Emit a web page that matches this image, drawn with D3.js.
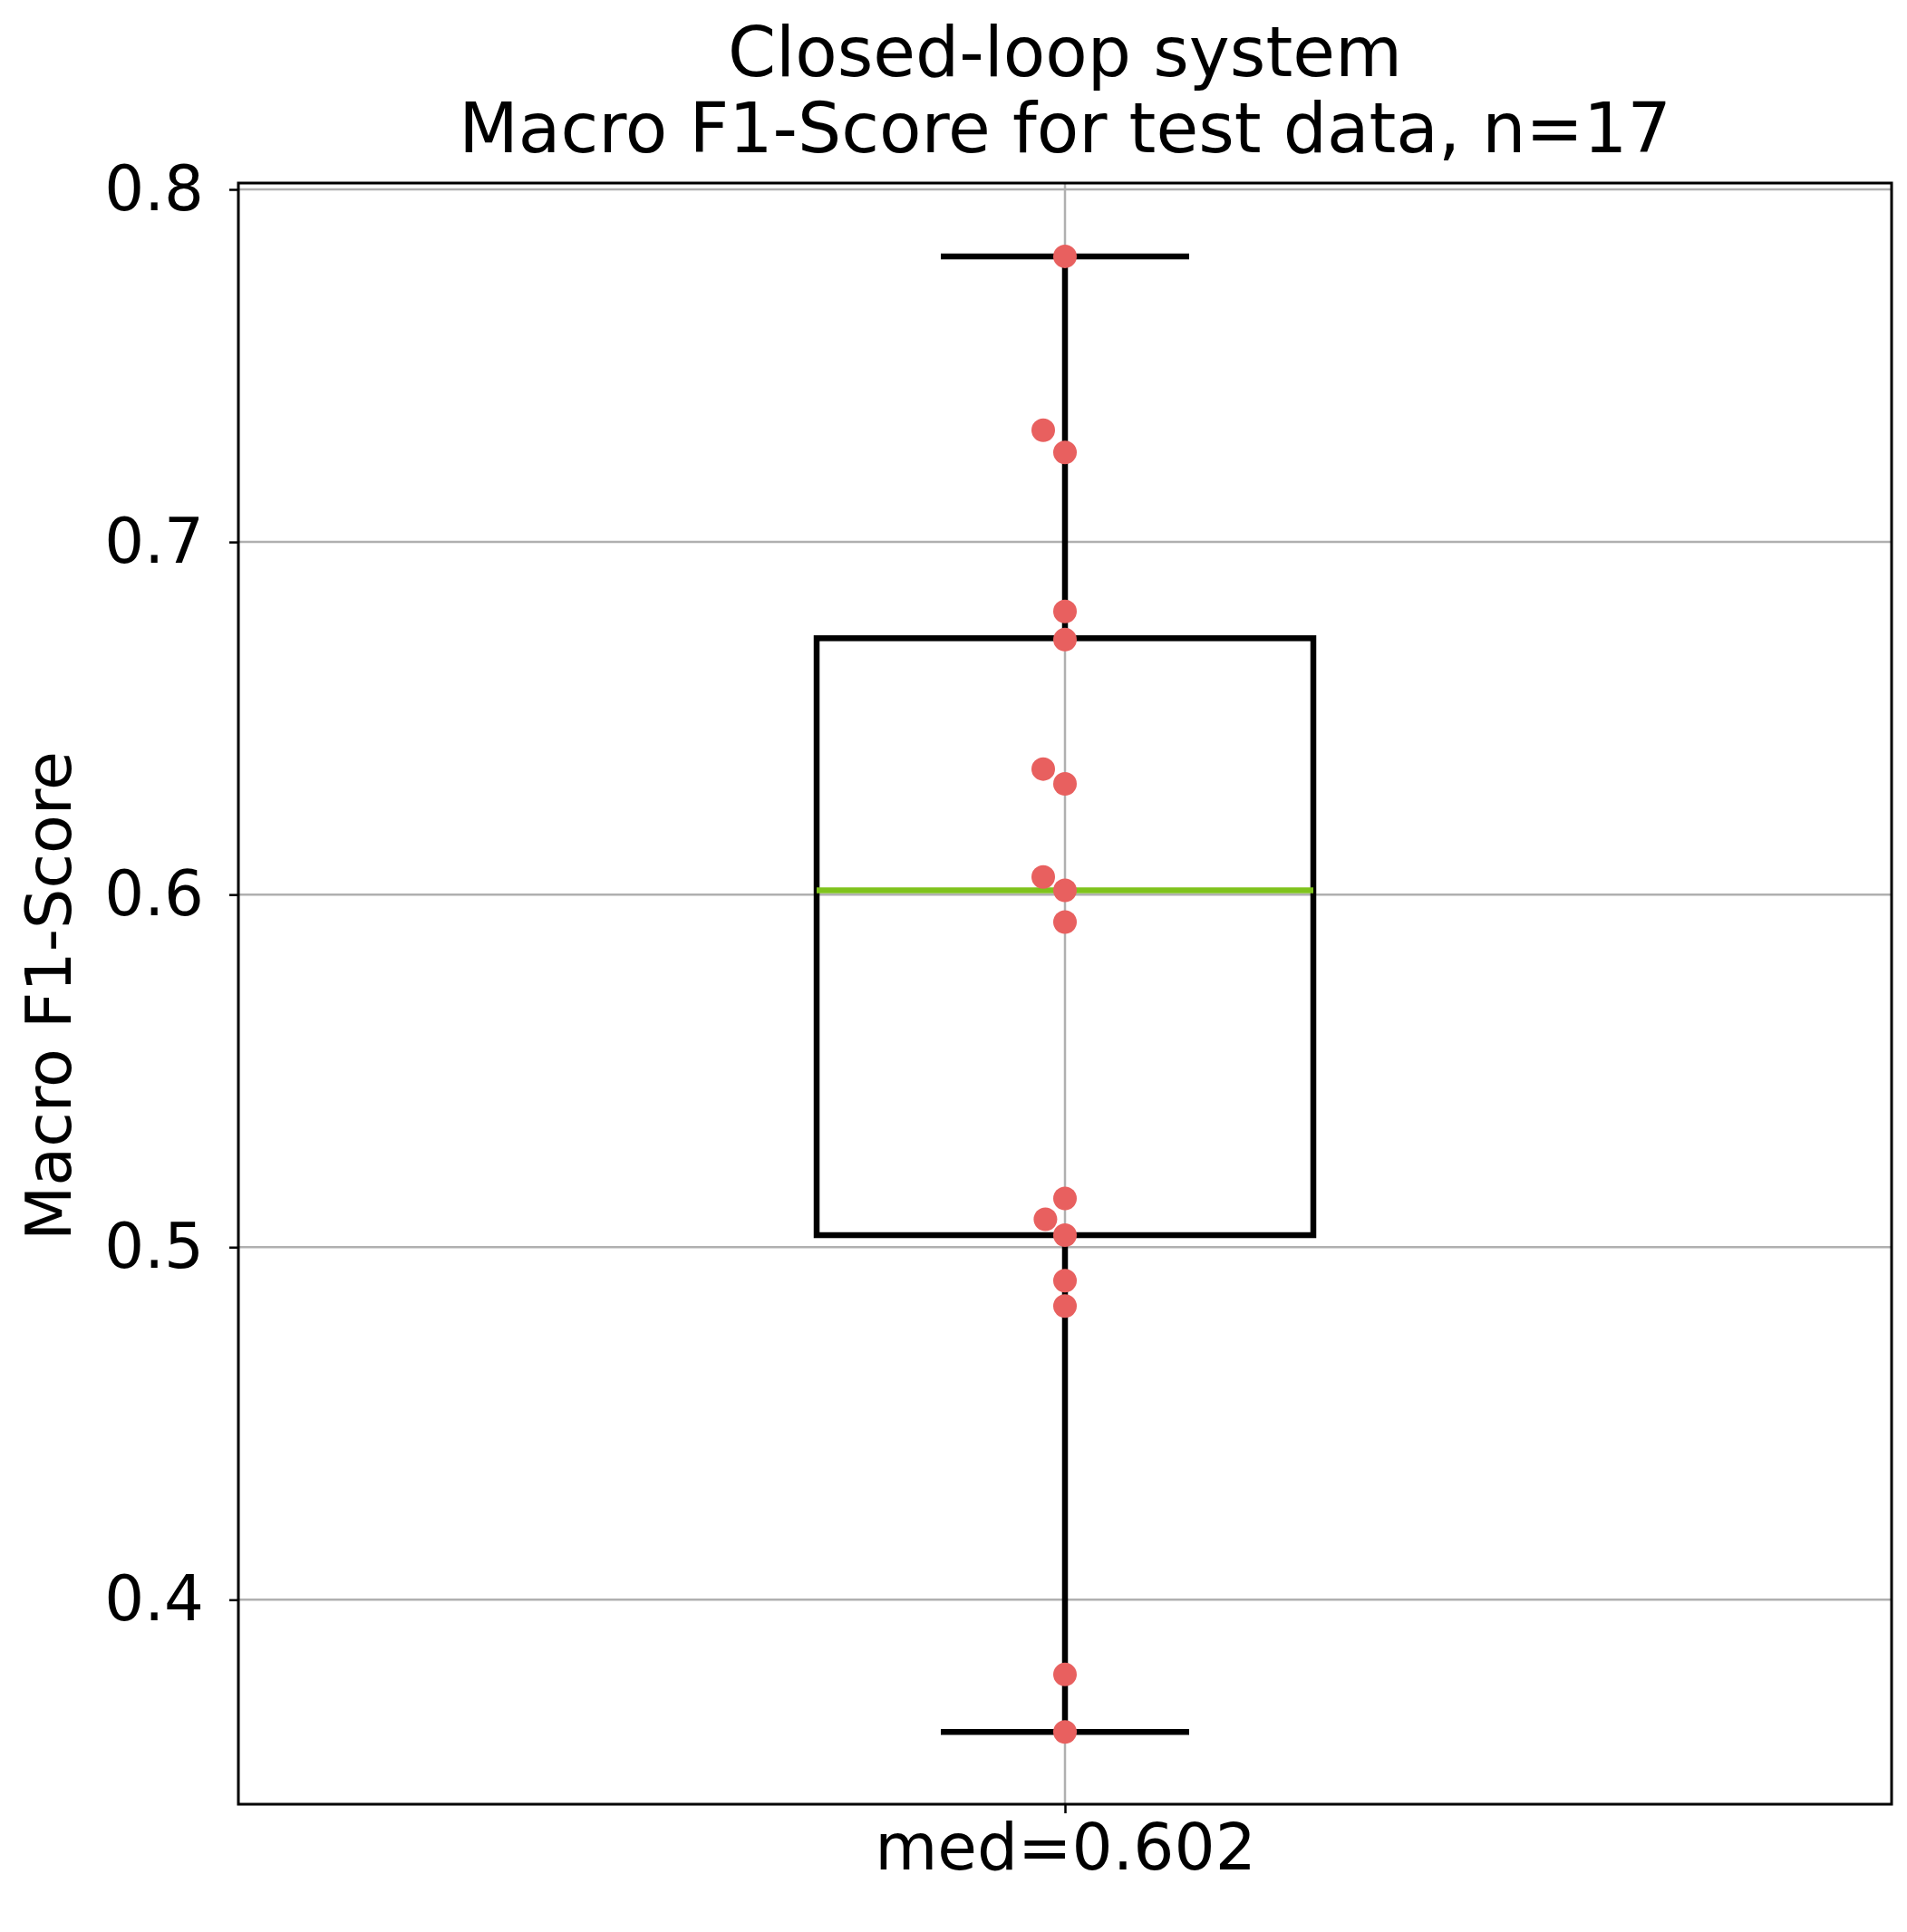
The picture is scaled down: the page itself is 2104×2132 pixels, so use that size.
<!DOCTYPE html><html><head><script src="https://cdn.jsdelivr.net/npm/d3@7"></script>
<style>body{margin:0;background:#fff}text{font-family:"DejaVu Sans";fill:#000}</style></head><body><svg id="c" width="2104" height="2132"></svg>
<script>
const values=[0.781,0.7317,0.7254,0.6803,0.6723,0.6356,0.6314,0.605,0.6012,0.5922,0.5138,0.5079,0.5034,0.4905,0.4833,0.3788,0.3625];
const jitter=[0,-1,0,0,0,-1,0,-1,0,0,0,-0.9,0,0,0,0,0];
const yTicks=[0.4,0.5,0.6,0.7,0.8];
const stats={q1:0.5034,med:0.6012,q3:0.6727,lo:0.3625,hi:0.781};
const svg=d3.select("#c");
const L=263,R=2087,T=202,B=1991;
const y=d3.scaleLinear().domain([0.342,0.8018]).range([B,T]);
const x=d3.scaleLinear().domain([-1,1]).range([L,R]);
const cx=x(0), jx=24;
svg.append("g").selectAll("line").data(yTicks).join("line").attr("x1",L).attr("x2",R).attr("y1",d=>y(d)).attr("y2",d=>y(d)).attr("stroke","#b0b0b0").attr("stroke-width",2.5);
svg.append("line").attr("x1",cx).attr("x2",cx).attr("y1",T).attr("y2",B).attr("stroke","#b0b0b0").attr("stroke-width",2.5);
const ax=svg.append("g").attr("transform",`translate(${L},0)`).call(d3.axisLeft(y).tickValues(yTicks).tickSize(10).tickPadding(28).tickFormat(d3.format(".1f")));
ax.select(".domain").remove();ax.selectAll("line").attr("stroke-width",2.5);ax.selectAll("text").style("font-size","69px").style("font-family","DejaVu Sans");
const bx=svg.append("g").attr("transform",`translate(0,${B})`).call(d3.axisBottom(x).tickValues([0]).tickSize(10).tickPadding(12).tickFormat(()=>"med=0.602"));
bx.select(".domain").remove();bx.selectAll("line").attr("stroke-width",2.5);bx.selectAll("text").style("font-size","71px").style("font-family","DejaVu Sans");
const bw=274, cw=137;
const g=svg.append("g").attr("stroke","#000").attr("stroke-width",6.5).attr("fill","none");
g.append("line").attr("x1",cx).attr("x2",cx).attr("y1",y(stats.hi)).attr("y2",y(stats.q3));
g.append("line").attr("x1",cx).attr("x2",cx).attr("y1",y(stats.q1)).attr("y2",y(stats.lo));
[stats.hi,stats.lo].forEach(v=>g.append("line").attr("x1",cx-cw).attr("x2",cx+cw).attr("y1",y(v)).attr("y2",y(v)));
g.append("rect").attr("x",cx-bw).attr("width",2*bw).attr("y",y(stats.q3)).attr("height",y(stats.q1)-y(stats.q3));
svg.append("line").attr("x1",cx-bw).attr("x2",cx+bw).attr("y1",y(stats.med)).attr("y2",y(stats.med)).attr("stroke","#7fc31c").attr("stroke-width",6.5);
svg.append("g").selectAll("circle").data(values).join("circle").attr("cx",(d,i)=>cx+jitter[i]*jx).attr("cy",d=>y(d)).attr("r",13).attr("fill","#e8605f");
svg.append("rect").attr("x",L).attr("y",T).attr("width",R-L).attr("height",B-T).attr("fill","none").attr("stroke","#000").attr("stroke-width",3);
svg.append("text").attr("x",cx).attr("y",84).attr("text-anchor","middle").style("font-size","76px").text("Closed-loop system");
svg.append("text").attr("x",cx).attr("y",168).attr("text-anchor","middle").style("font-size","76px").text("Macro F1-Score for test data, n=17");
svg.append("text").attr("transform","translate(78,1099) rotate(-90)").attr("text-anchor","middle").style("font-size","70px").text("Macro F1-Score");
</script></body></html>
